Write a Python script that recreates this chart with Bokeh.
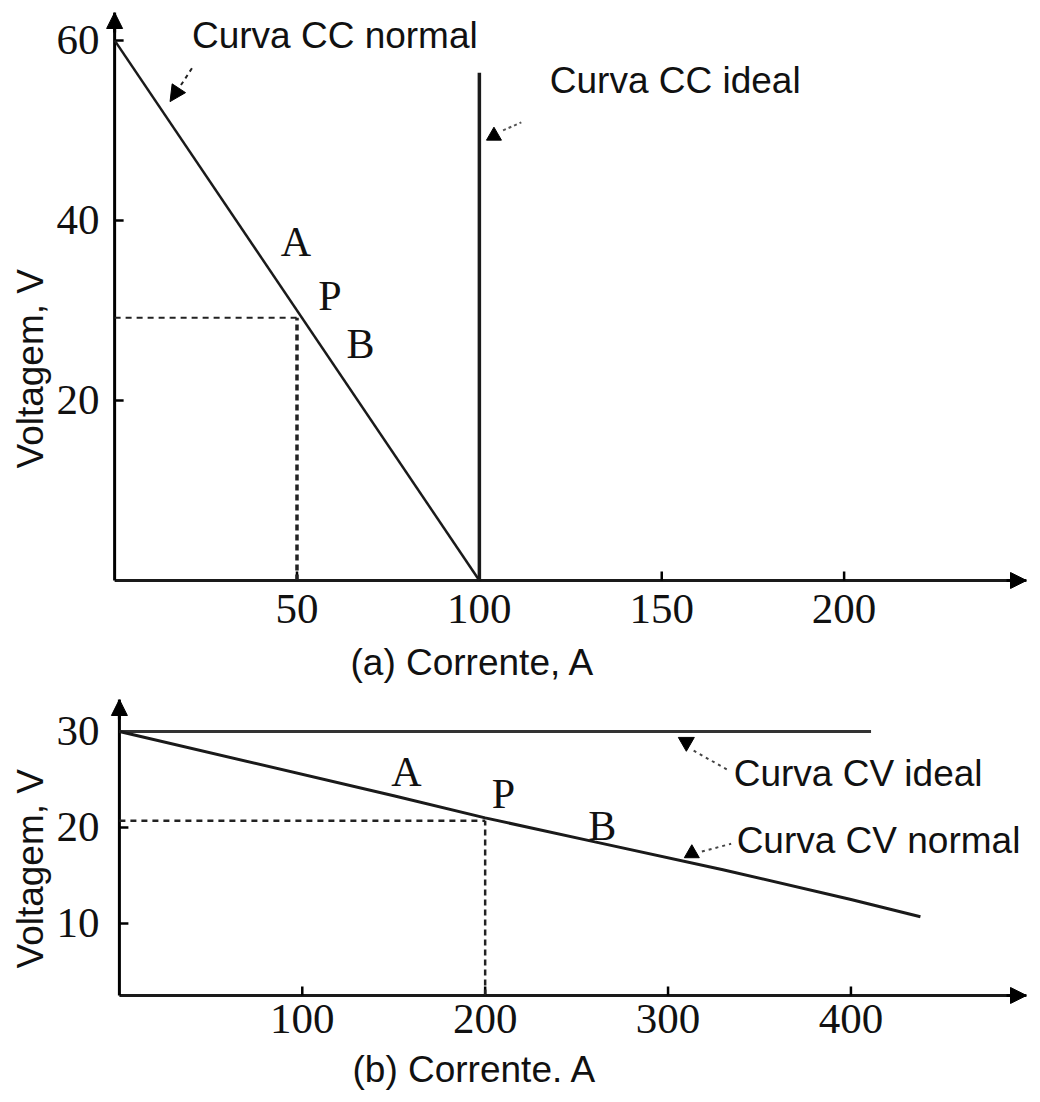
from bokeh.plotting import figure
from bokeh.layouts import column
from bokeh.models import Range1d, FixedTicker, Arrow, NormalHead, Title
from bokeh.core.properties import value
from bokeh.embed import file_html
from bokeh.resources import INLINE

# ---------------- data: (a) constant-current source ----------------
cc_x_ticks = [50, 100, 150, 200]
cc_y_ticks = [20, 40, 60]
cc_normal_i = [0, 100]
cc_normal_v = [60, 0]
cc_ideal_i = [100, 100]
cc_ideal_v = [0, 56.4]
cc_p_i = 50
cc_p_v = 29.2
cc_pt_names = ["A", "P", "B"]
cc_pt_i = [49.7, 59.0, 67.4]
cc_pt_v = [37.6, 31.6, 26.3]

# ---------------- data: (b) constant-voltage source ----------------
cv_x_ticks = [100, 200, 300, 400]
cv_y_ticks = [10, 20, 30]
cv_normal_i = [0, 150, 200, 260, 330, 400, 438]
cv_normal_v = [30, 23.3, 21.0, 18.5, 15.6, 12.5, 10.7]
cv_ideal_i = [0, 411]
cv_ideal_v = [30, 30]
cv_p_i = 200
cv_p_v = 20.7
cv_pt_names = ["A", "P", "B"]
cv_pt_i = [157, 210, 264]
cv_pt_v = [25.8, 23.5, 20.2]

SERIF = "Liberation Serif"
SANS = "Liberation Sans"
SANS_SIZE = "37px"

# axis systems: origin and arrow-tip extents
cc_x0, cc_xmax, cc_y0, cc_ymax = 0, 250, 0, 63.1
cv_x0, cv_xmax, cv_y0, cv_ymax = 0, 496, 2.5, 33.33


def draw_axes(p, fw, fh, x0, xmax, y0, ymax, xticks, yticks, xstand, ystand):
    """Bokeh axes give the tick labels; the drawn axis lines, inward ticks and
    arrow heads sit at the origin (x0, y0), a few pixels inside the frame."""
    p.xgrid.visible = False
    p.ygrid.visible = False
    p.outline_line_color = None
    for ax in (p.xaxis, p.yaxis):
        ax.axis_line_color = None
        ax.major_tick_line_color = None
        ax.minor_tick_line_color = None
        ax.major_label_text_font = SERIF
        ax.major_label_text_font_size = "43px"
        ax.major_label_text_color = "#111111"
    p.xaxis.ticker = FixedTicker(ticks=xticks)
    p.yaxis.ticker = FixedTicker(ticks=yticks)
    p.xaxis.major_label_standoff = xstand
    p.yaxis.major_label_standoff = ystand

    px_x = (p.x_range.end - p.x_range.start) / fw
    px_y = (p.y_range.end - p.y_range.start) / fh
    # axis lines
    p.line([x0, xmax], [y0, y0], line_color="#1a1a1a", line_width=3)
    p.line([x0, x0], [y0, ymax], line_color="black", line_width=3)
    # inward tick marks, ~9 px long
    p.segment(x0=xticks, y0=[y0] * len(xticks), x1=xticks, y1=[y0 + 9 * px_y] * len(xticks),
              line_color="black", line_width=2.5)
    p.segment(x0=[x0] * len(yticks), y0=yticks, x1=[x0 + 9 * px_x] * len(yticks), y1=yticks,
              line_color="black", line_width=2.5)
    # arrow heads
    p.add_layout(Arrow(end=NormalHead(size=16, fill_color="black", line_color="black"),
                       x_start=x0, y_start=ymax - 20 * px_y, x_end=x0, y_end=ymax, line_width=3))
    p.add_layout(Arrow(end=NormalHead(size=16, fill_color="black", line_color="black"),
                       x_start=xmax - 20 * px_x, y_start=y0, x_end=xmax, y_end=y0, line_width=3))


def add_text_title(p, txt, where, align, offset, standoff):
    p.add_layout(Title(text=txt, align=align, offset=offset, standoff=standoff,
                       text_font=SANS, text_font_size=SANS_SIZE, text_font_style="normal",
                       text_color="#111111"), where)


def add_note(p, x, y, txt):
    p.text(x=[x], y=[y], text=[txt], text_font=value(SANS), text_font_size=SANS_SIZE,
           text_align="left", text_baseline="middle", text_color="#111111")


W = 1028

# ---------------- top figure ----------------
H1, L1, R1, T1, B1 = 698, 105, 2, 12, 109
p1 = figure(width=W, height=H1, x_range=Range1d(-2.5, cc_xmax), y_range=Range1d(-1.0, cc_ymax),
            output_backend="svg", toolbar_location=None,
            min_border_left=L1, min_border_right=R1, min_border_top=T1, min_border_bottom=B1)
draw_axes(p1, W - L1 - R1, H1 - T1 - B1, cc_x0, cc_xmax, cc_y0, cc_ymax, cc_x_ticks, cc_y_ticks, -1, 0)

p1.line(cc_normal_i, cc_normal_v, line_color="#1a1a1a", line_width=2.5)
p1.line(cc_ideal_i, cc_ideal_v, line_color="#1a1a1a", line_width=3.5)
p1.line([0, cc_p_i], [cc_p_v, cc_p_v], line_color="#222222", line_width=2, line_dash="6 5")
p1.line([cc_p_i, cc_p_i], [0, cc_p_v], line_color="#222222", line_width=3.5, line_dash="6 4")
p1.text(x=cc_pt_i, y=cc_pt_v, text=cc_pt_names, text_font=value(SERIF), text_font_size="42px",
        text_align="center", text_baseline="middle", text_color="#111111")

add_note(p1, 21.2, 60.6, "Curva CC normal")
add_note(p1, 119.3, 55.5, "Curva CC ideal")
p1.add_layout(Arrow(end=NormalHead(size=16, fill_color="black", line_color="black"),
                    x_start=21.2, y_start=56.9, x_end=15.2, y_end=53.2,
                    line_width=2, line_dash="4 4", line_color="#222222"))
p1.scatter(x=[104.0], y=[49.4], marker="triangle", size=15, fill_color="black", line_color="black")
p1.line([106.5, 111.5], [50.0, 50.9], line_color="#555555", line_width=2, line_dash="3 3")

add_text_title(p1, "(a) Corrente, A", "below", "left", 245, 28)
add_text_title(p1, "Voltagem, V", "left", "left", 121, 5)

# ---------------- bottom figure ----------------
H2, L2, R2, T2, B2 = 403, 105, 2, 1, 97
p2 = figure(width=W, height=H2, x_range=Range1d(-7.6, cv_xmax), y_range=Range1d(1.56, cv_ymax),
            output_backend="svg", toolbar_location=None,
            min_border_left=L2, min_border_right=R2, min_border_top=T2, min_border_bottom=B2)
draw_axes(p2, W - L2 - R2, H2 - T2 - B2, cv_x0, cv_xmax, cv_y0, cv_ymax, cv_x_ticks, cv_y_ticks, -6, 0)

p2.line(cv_ideal_i, cv_ideal_v, line_color="#333333", line_width=3)
p2.line(cv_normal_i, cv_normal_v, line_color="#1a1a1a", line_width=3)
p2.line([0, cv_p_i], [cv_p_v, cv_p_v], line_color="#222222", line_width=2.5, line_dash="6 5")
p2.line([cv_p_i, cv_p_i], [cv_y0, cv_p_v], line_color="#222222", line_width=2.5, line_dash="6 4")
p2.text(x=cv_pt_i, y=cv_pt_v, text=cv_pt_names, text_font=value(SERIF), text_font_size="42px",
        text_align="center", text_baseline="middle", text_color="#111111")

add_note(p2, 335.9, 25.6, "Curva CV ideal")
add_note(p2, 337.5, 18.6, "Curva CV normal")
p2.scatter(x=[310.0], y=[28.9], marker="inverted_triangle", size=16, fill_color="black", line_color="black")
p2.line([314, 333.5], [28.0, 25.9], line_color="#444444", line_width=2, line_dash="3 4")
p2.scatter(x=[313.0], y=[17.3], marker="triangle", size=15, fill_color="black", line_color="black")
p2.line([318.5, 334.5], [17.5, 18.3], line_color="#444444", line_width=2, line_dash="3 4")

add_text_title(p2, "(b) Corrente. A", "below", "left", 247, 23)
add_text_title(p2, "Voltagem,  V", "left", "left", 36, 5)

layout = column(p1, p2, spacing=0)
open("out.html", "w").write(file_html(layout, INLINE))
